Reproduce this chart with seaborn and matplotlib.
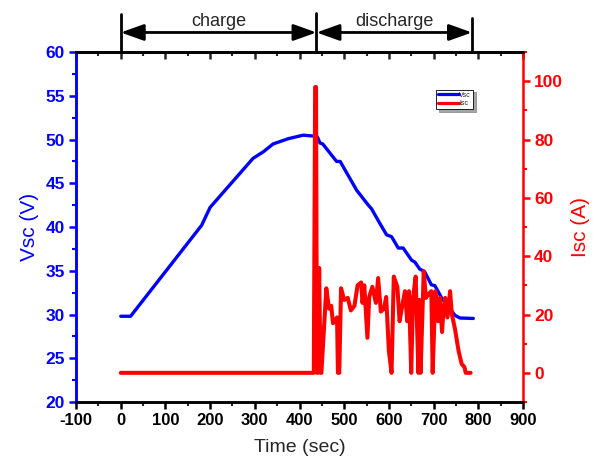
import seaborn as sns
import matplotlib.pyplot as plt
import matplotlib.transforms as mtransforms
from matplotlib.ticker import MultipleLocator
from matplotlib.lines import Line2D

# Vsc (V) vs time
t_v = [0, 22, 181, 200, 296, 319, 341, 375, 408, 431, 440, 446, 452, 483, 491, 528, 554, 561,
       580, 595, 606, 621, 632, 651, 658, 669, 680, 695, 703, 718, 748, 759, 789]
vsc = [29.8, 29.8, 40.2, 42.25, 47.85, 48.6, 49.5, 50.1, 50.5, 50.4, 50.3, 49.6, 49.5, 47.5, 47.5,
       44.2, 42.5, 42.1, 40.4, 39.1, 38.9, 37.6, 37.6, 36.2, 36.0, 35.2, 34.9, 33.4, 33.3, 31.9,
       29.9, 29.6, 29.55]

# Isc (A) vs time
t_i = [0, 432, 435, 437, 439, 441, 444, 447, 449, 460, 466, 471, 475, 484, 486, 489, 493,
       500, 508, 515, 523, 530, 538, 541, 545, 552, 556, 563, 571, 576, 582, 589, 594,
       600, 606, 611, 619, 624, 630, 636, 641, 645, 650, 654, 660, 666, 668, 671, 678, 683,
       689, 695, 698, 704, 710, 714, 719, 722, 726, 731, 737, 741, 748, 756, 763, 769,
       772, 783]
isc = [0, 0, 98, 98, 0, 0, 36, 0, 0, 29, 22, 23, 17, 19, 0, 0, 29,
       25, 25.7, 21.4, 23, 30, 31, 24, 30, 12, 26, 29.5, 24, 32.5, 21, 22, 26,
       7.5, 0, 33, 29.5, 17.7, 23, 28, 17.7, 28, 0, 25.7, 33, 0, 25, 0, 34.8, 25.7,
       27, 28, 0, 28, 17.7, 25.7, 14, 21, 25.7, 19, 28, 20, 15, 7.5, 3, 2,
       0, 0]

phases = ["charge", "discharge"]
phase_edges = [0, 438, 786]

sns.set_style("white")
plt.rcParams['font.family'] = ['Liberation Sans', 'DejaVu Sans']
plt.rcParams['font.weight'] = 'bold'
plt.rcParams['axes.unicode_minus'] = False

fig = plt.figure(figsize=(5.99, 4.58), dpi=100)
ax = fig.add_axes([0.127, 0.1223, 0.746, 0.764])
ax2 = ax.twinx()

sns.lineplot(x=t_v, y=vsc, ax=ax, color='blue', lw=2.4, sort=False, estimator=None)
sns.lineplot(x=t_i, y=isc, ax=ax2, color='red', lw=2.9, sort=False, estimator=None)

ax.set_xlim(-100, 900)
ax.set_ylim(20, 60)
ax2.set_ylim(-10, 110)

ax.xaxis.set_major_locator(MultipleLocator(100))
ax.xaxis.set_minor_locator(MultipleLocator(50))
ax.yaxis.set_major_locator(MultipleLocator(5))
ax.yaxis.set_minor_locator(MultipleLocator(2.5))
ax2.yaxis.set_major_locator(MultipleLocator(20))
ax2.yaxis.set_minor_locator(MultipleLocator(10))

for a in (ax, ax2):
    for s in a.spines.values():
        s.set_linewidth(1.8)
        s.set_color('black')
ax.spines['left'].set_color('blue')
ax2.spines['left'].set_color('blue')
ax2.spines['right'].set_color('red')
ax.spines['right'].set_visible(False)

ax.tick_params(axis='x', which='major', direction='out', length=5, width=1.8, colors='black',
               labelsize=12, bottom=True, pad=3)
ax.tick_params(axis='x', which='minor', direction='out', length=3, width=1.5, bottom=True)
ax.tick_params(axis='y', which='major', direction='out', length=5, width=1.8, colors='blue',
               labelsize=12.5, left=True, pad=3)
ax.tick_params(axis='y', which='minor', direction='out', length=3, width=1.5, colors='blue', left=True)
ax2.tick_params(axis='y', which='major', direction='out', length=5, width=1.8, colors='red',
                labelsize=12.5, right=True, pad=3)
ax2.tick_params(axis='y', which='minor', direction='out', length=3, width=1.5, colors='red', right=True)

top = ax.secondary_xaxis('top')
top.xaxis.set_major_locator(MultipleLocator(100))
top.xaxis.set_minor_locator(MultipleLocator(50))
top.tick_params(which='major', direction='in', length=5, width=1.8, labeltop=False)
top.tick_params(which='minor', direction='in', length=3, width=1.5)
top.spines['top'].set_linewidth(1.8)

ax.set_xlabel("Time (sec)", fontsize=14, fontweight='normal', labelpad=8)
ax.set_ylabel("Vsc (V)", fontsize=15, fontweight='normal', color='blue', labelpad=5)
ax2.set_ylabel("Isc (A)", fontsize=15, fontweight='normal', color='red', labelpad=6)

# charge / discharge brackets above the plot
trans = mtransforms.blended_transform_factory(ax.transData, ax.transAxes)
tops = [1.109, 1.112, 1.097]
for x0, y1 in zip(phase_edges, tops):
    ax.plot([x0, x0], [1.0, y1], color='black', lw=2, transform=trans, clip_on=False)
for k, name in enumerate(phases):
    a0, a1 = phase_edges[k], phase_edges[k + 1]
    ax.annotate("", xy=(a0, 1.056), xytext=(a1, 1.056), xycoords=trans, textcoords=trans,
                arrowprops=dict(arrowstyle='<|-|>,head_length=0.7,head_width=0.25',
                                mutation_scale=20, color='black', lw=2, shrinkA=0, shrinkB=0))
    ax.text((a0 + a1) / 2, 1.062, name, transform=trans, ha='center', va='bottom',
            fontsize=13, fontweight='normal')

handles = [Line2D([], [], color='blue', lw=2.3), Line2D([], [], color='red', lw=2.3)]
leg = ax2.legend(handles, ['Vsc', 'Isc'], loc='upper left', bbox_to_anchor=(0.805, 0.893),
                 prop={'size': 5, 'weight': 'normal'}, frameon=True, fancybox=False,
                 shadow=True, edgecolor='black', handlelength=3, borderpad=0.3,
                 labelspacing=0.2, handletextpad=0.1, borderaxespad=0)
leg.get_frame().set_linewidth(0.6)

fig.savefig("out.png", dpi=100)
